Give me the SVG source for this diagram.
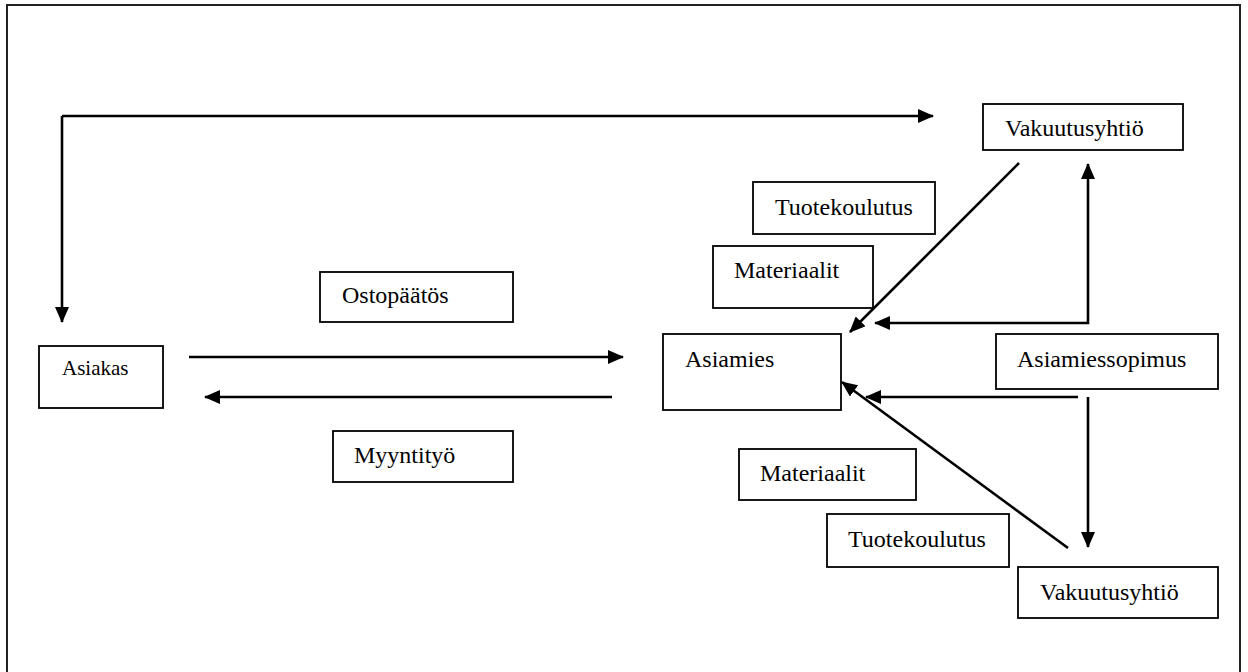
<svg xmlns="http://www.w3.org/2000/svg" width="1248" height="672" viewBox="0 0 1248 672">
<style>
.box{fill:#fff;stroke:#000;stroke-width:1.8}
.lbl{font-family:'Liberation Serif','DejaVu Serif','Times New Roman',serif;font-size:24px;fill:#000}
.con{fill:none;stroke:#000;stroke-width:2.6}
.frame{fill:none;stroke:#222;stroke-width:2}
</style>
<defs>
<marker id="ah" markerUnits="userSpaceOnUse" markerWidth="16" markerHeight="14" refX="15" refY="7" orient="auto-start-reverse">
<path d="M0,0 L16,7 L0,14 z" fill="#000"/>
</marker>
</defs>
<rect width="1248" height="672" fill="#fff"/>
<path class="frame" d="M7,690 V5 H1240 V690"/>
<g id="connectors">
<path class="con" d="M62,116 V322" marker-end="url(#ah)"/>
<path class="con" d="M62,116 H933" marker-end="url(#ah)"/>
<path class="con" d="M189,357 H623" marker-end="url(#ah)"/>
<path class="con" d="M612,397 H205" marker-end="url(#ah)"/>
<path class="con" d="M1019,163 L850,332" marker-end="url(#ah)"/>
<path class="con" d="M875,323 H1088 V164" marker-start="url(#ah)" marker-end="url(#ah)"/>
<path class="con" d="M1078,397 H866" marker-end="url(#ah)"/>
<path class="con" d="M1088,397 V547" marker-end="url(#ah)"/>
<path class="con" d="M1068,548 L842,382" marker-end="url(#ah)"/>
</g>
<g id="vakuutusyhtio-top"><rect class="box" x="983" y="104" width="200" height="46"/><text class="lbl" font-family="Liberation Serif, serif" x="1005" y="136">Vakuutusyhtiö</text></g>
<g id="tuotekoulutus-top"><rect class="box" x="753" y="182" width="182" height="52"/><text class="lbl" font-family="Liberation Serif, serif" x="775" y="215">Tuotekoulutus</text></g>
<g id="materiaalit-top"><rect class="box" x="713" y="246" width="160" height="62"/><text class="lbl" font-family="Liberation Serif, serif" x="734" y="278">Materiaalit</text></g>
<g id="ostopaatos"><rect class="box" x="320" y="272" width="193" height="50"/><text class="lbl" font-family="Liberation Serif, serif" x="342" y="303">Ostopäätös</text></g>
<g id="asiakas"><rect class="box" x="39" y="346" width="124" height="62"/><text class="lbl" font-family="Liberation Serif, serif" x="62" y="375" style="font-size:21px">Asiakas</text></g>
<g id="asiamies"><rect class="box" x="663" y="334" width="178" height="76"/><text class="lbl" font-family="Liberation Serif, serif" x="685" y="367">Asiamies</text></g>
<g id="asiamiessopimus"><rect class="box" x="996" y="334" width="222" height="55"/><text class="lbl" font-family="Liberation Serif, serif" x="1017" y="367">Asiamiessopimus</text></g>
<g id="myyntityo"><rect class="box" x="333" y="431" width="180" height="51"/><text class="lbl" font-family="Liberation Serif, serif" x="354" y="463">Myyntityö</text></g>
<g id="materiaalit-bottom"><rect class="box" x="739" y="449" width="177" height="51"/><text class="lbl" font-family="Liberation Serif, serif" x="760" y="481">Materiaalit</text></g>
<g id="tuotekoulutus-bottom"><rect class="box" x="827" y="514" width="182" height="53"/><text class="lbl" font-family="Liberation Serif, serif" x="848" y="547">Tuotekoulutus</text></g>
<g id="vakuutusyhtio-bottom"><rect class="box" x="1018" y="567" width="200" height="51"/><text class="lbl" font-family="Liberation Serif, serif" x="1040" y="600">Vakuutusyhtiö</text></g>
</svg>
